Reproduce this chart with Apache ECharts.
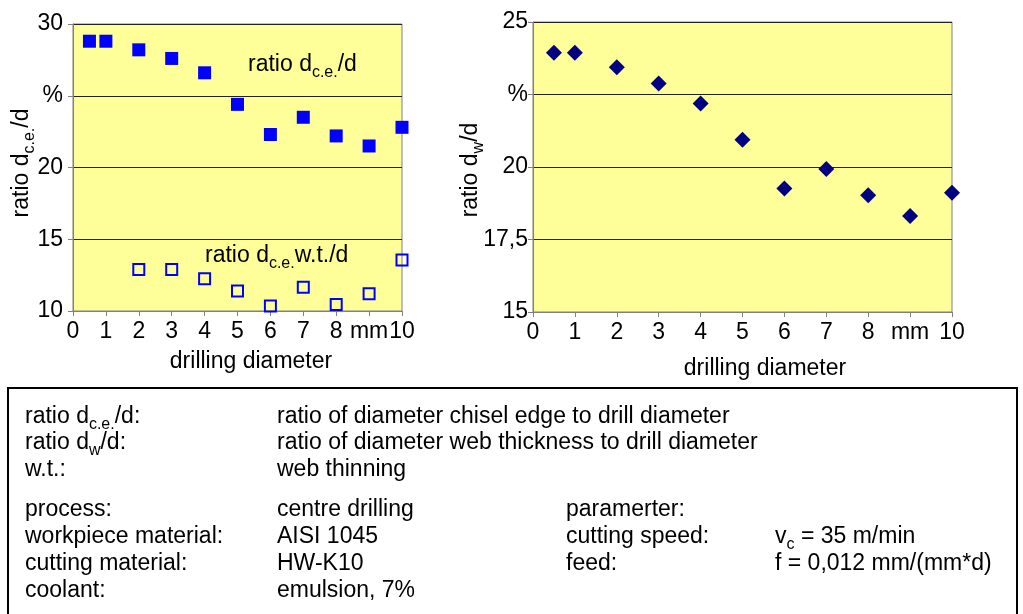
<!DOCTYPE html>
<html>
<head>
<meta charset="utf-8">
<script src="https://cdn.jsdelivr.net/npm/echarts@6/dist/echarts.min.js"></script>
<style>
html,body{margin:0;padding:0;background:#fff;}
#c{width:1023px;height:614px;}
</style>
</head>
<body>
<div id="c"></div>
<script>
// ---- data ----
const xCE = [0.5, 1, 2, 3, 4, 5, 6, 7, 8, 9, 10];
const ceRatio = [28.8, 28.8, 28.2, 27.6, 26.6, 24.4, 22.3, 23.5, 22.2, 21.5, 22.8];
const xWT = [2, 3, 4, 5, 6, 7, 8, 9, 10];
const ceWtRatio = [12.9, 12.9, 12.25, 11.4, 10.35, 11.65, 10.45, 11.2, 13.55];
const xW = [0.5, 1, 2, 3, 4, 5, 6, 7, 8, 9, 10];
const wRatio = [23.94, 23.94, 23.44, 22.88, 22.19, 20.94, 19.26, 19.93, 19.03, 18.31, 19.11];
const xTickLabels = {9: 'mm'};
const leftYTickLabels = {25: '%'};
const rightYTickLabels = {15: '15', 17.5: '17,5', 20: '20', 22.5: '%', 25: '25'};

const FONT = '"Liberation Sans", Arial, sans-serif';
const FS = 23;
const pair = (xs, ys) => xs.map((x, i) => [x, ys[i]]);

const chart = echarts.init(document.getElementById('c'), null, {renderer: 'canvas'});

const rich = {
  a: {fontSize: FS, fontFamily: FONT, color: '#000', lineHeight: 31},
  s: {fontSize: 16, fontFamily: FONT, color: '#000', lineHeight: 16, verticalAlign: 'bottom'}
};
function txt(x, y, text, extra) {
  return Object.assign({
    type: 'text', x: x, y: y, silent: true,
    style: {text: text, rich: rich, font: FS + 'px ' + FONT, fill: '#000', align: 'left', verticalAlign: 'middle'}
  }, extra || {});
}

const xAxisCommon = {
  type: 'value', min: 0, max: 10, interval: 1,
  axisLine: {show: true, lineStyle: {color: '#808080', width: 1}},
  axisTick: {show: true, length: 5, lineStyle: {color: '#808080'}},
  splitLine: {show: false},
  axisLabel: {
    fontSize: FS, fontFamily: FONT, color: '#000', margin: 9,
    formatter: v => (xTickLabels[v] !== undefined ? xTickLabels[v] : String(v))
  }
};

const boxCol = [25, 277, 566, 775];
const boxRow = [417, 443, 470, 510, 537, 564, 591];

const option = {
  backgroundColor: '#fff',
  animation: false,
  grid: [
    {left: 73, top: 24, width: 329, height: 287, show: true, backgroundColor: '#FFFF99', borderColor: '#808080', borderWidth: 1},
    {left: 533, top: 22, width: 419, height: 290, show: true, backgroundColor: '#FFFF99', borderColor: '#808080', borderWidth: 1}
  ],
  xAxis: [
    Object.assign({gridIndex: 0}, xAxisCommon),
    Object.assign({gridIndex: 1}, xAxisCommon)
  ],
  yAxis: [
    {
      gridIndex: 0, type: 'value', min: 10, max: 30, interval: 5,
      axisLine: {show: true, lineStyle: {color: '#808080'}},
      axisTick: {show: true, length: 5, lineStyle: {color: '#808080'}},
      splitLine: {show: true, lineStyle: {color: '#222', width: 1}},
      axisLabel: {fontSize: FS, fontFamily: FONT, color: '#000', margin: 10,
        formatter: v => (leftYTickLabels[v] !== undefined ? leftYTickLabels[v] : String(v))}
    },
    {
      gridIndex: 1, type: 'value', min: 15, max: 25, interval: 2.5,
      axisLine: {show: true, lineStyle: {color: '#808080'}},
      axisTick: {show: true, length: 5, lineStyle: {color: '#808080'}},
      splitLine: {show: true, lineStyle: {color: '#222', width: 1}},
      axisLabel: {fontSize: FS, fontFamily: FONT, color: '#000', margin: 5,
        formatter: v => (rightYTickLabels[v] !== undefined ? rightYTickLabels[v] : String(v))}
    }
  ],
  series: [
    {
      name: 'ratio dce/d', type: 'scatter', xAxisIndex: 0, yAxisIndex: 0, clip: false,
      symbol: 'rect', symbolSize: 13,
      itemStyle: {color: '#0000FF', opacity: 1},
      data: pair(xCE, ceRatio)
    },
    {
      name: 'ratio dce w.t./d', type: 'scatter', xAxisIndex: 0, yAxisIndex: 0, clip: false,
      symbol: 'rect', symbolSize: 11,
      itemStyle: {color: 'rgba(255,255,153,0)', borderColor: '#0000FF', borderWidth: 2, opacity: 1},
      data: pair(xWT, ceWtRatio)
    },
    {
      name: 'ratio dw/d', type: 'scatter', xAxisIndex: 1, yAxisIndex: 1, clip: false,
      symbol: 'diamond', symbolSize: 16,
      itemStyle: {color: '#000080', opacity: 1},
      data: pair(xW, wRatio)
    }
  ],
  graphic: [
    // annotations in left chart
    txt(248, 65, '{a|ratio d}{s|c.e.}{a|/d}'),
    txt(205, 256, '{a|ratio d}{s|c.e.}{a|w.t./d}'),
    // axis names
    txt(22, 163, '', {rotation: Math.PI / 2, style: {text: '{a|ratio d}{s|c.e.}{a|/d}', rich: rich, align: 'center', verticalAlign: 'middle'}}),
    txt(471, 170, '', {rotation: Math.PI / 2, style: {text: '{a|ratio d}{s|w}{a|/d}', rich: rich, align: 'center', verticalAlign: 'middle'}}),
    txt(251, 362, '', {style: {text: 'drilling diameter', font: FS + 'px ' + FONT, fill: '#000', align: 'center', verticalAlign: 'middle'}}),
    txt(765, 369, '', {style: {text: 'drilling diameter', font: FS + 'px ' + FONT, fill: '#000', align: 'center', verticalAlign: 'middle'}}),
    // legend box
    {type: 'rect', silent: true, shape: {x: 8, y: 388, width: 1009, height: 240},
     style: {fill: '#fff', stroke: '#000', lineWidth: 2}},
    txt(boxCol[0], boxRow[0], '{a|ratio d}{s|c.e.}{a|/d:}'),
    txt(boxCol[1], boxRow[0], '{a|ratio of diameter chisel edge to drill diameter}'),
    txt(boxCol[0], boxRow[1], '{a|ratio d}{s|w}{a|/d:}'),
    txt(boxCol[1], boxRow[1], '{a|ratio of diameter web thickness to drill diameter}'),
    txt(boxCol[0], boxRow[2], '{a|w.t.:}'),
    txt(boxCol[1], boxRow[2], '{a|web thinning}'),
    txt(boxCol[0], boxRow[3], '{a|process:}'),
    txt(boxCol[1], boxRow[3], '{a|centre drilling}'),
    txt(boxCol[2], boxRow[3], '{a|paramerter:}'),
    txt(boxCol[0], boxRow[4], '{a|workpiece material:}'),
    txt(boxCol[1], boxRow[4], '{a|AISI 1045}'),
    txt(boxCol[2], boxRow[4], '{a|cutting speed:}'),
    txt(boxCol[3], boxRow[4], '{a|v}{s|c}{a| = 35 m/min}'),
    txt(boxCol[0], boxRow[5], '{a|cutting material:}'),
    txt(boxCol[1], boxRow[5], '{a|HW-K10}'),
    txt(boxCol[2], boxRow[5], '{a|feed:}'),
    txt(boxCol[3], boxRow[5], '{a|f = 0,012 mm/(mm*d)}'),
    txt(boxCol[0], boxRow[6], '{a|coolant:}'),
    txt(boxCol[1], boxRow[6], '{a|emulsion, 7%}')
  ]
};
chart.setOption(option);
</script>
</body>
</html>
